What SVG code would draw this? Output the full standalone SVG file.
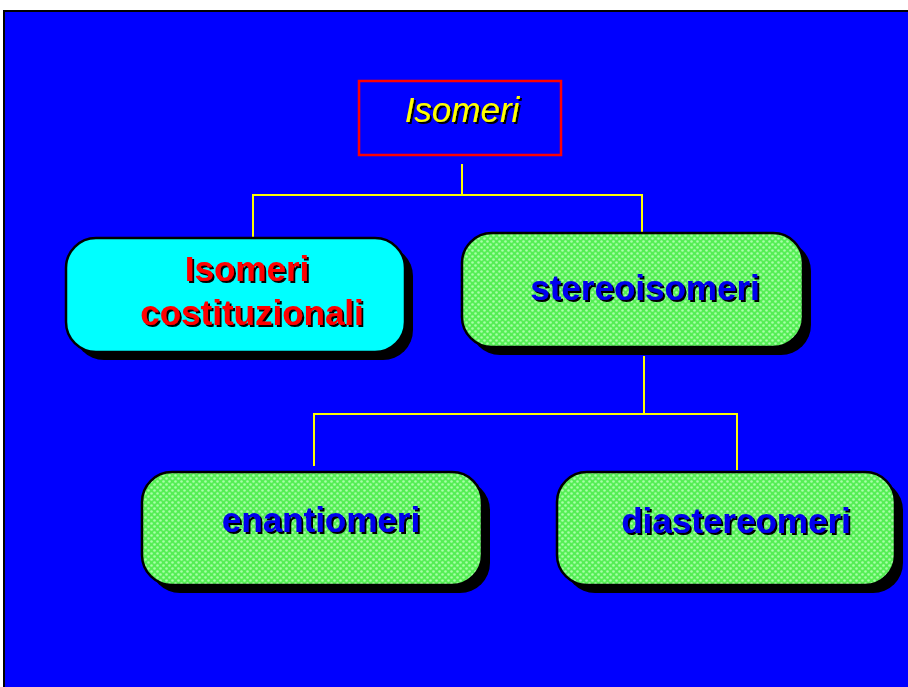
<svg xmlns="http://www.w3.org/2000/svg" width="908" height="687" viewBox="0 0 908 687">
  <defs>
    <pattern id="dots" width="6" height="6" patternUnits="userSpaceOnUse">
      <rect width="6" height="6" fill="#55ee55"/>
      <circle cx="1.5" cy="1.5" r="1.3" fill="#a8ffa8"/>
      <circle cx="4.5" cy="4.5" r="1.3" fill="#a8ffa8"/>
    </pattern>
    <filter id="ts" x="-10%" y="-20%" width="130%" height="150%">
      <feDropShadow dx="2" dy="2" stdDeviation="0" flood-color="#000" flood-opacity="1"/>
    </filter>
  </defs>
  <style>
    .shadow { fill: #000; }
    .box { stroke: #000; stroke-width: 2.5; }
    .green { fill: url(#dots); }
    .lbl { font-family: "Liberation Sans", Arial, sans-serif; font-size: 35px; font-weight: bold; text-anchor: middle; filter: url(#ts); }
    .conn { stroke: #ffff00; stroke-width: 2; fill: none; }
  </style>
  <rect x="0" y="0" width="908" height="687" fill="#ffffff"/>
  <rect x="4" y="11" width="920" height="700" fill="#0000ff" stroke="#000" stroke-width="2"/>

  <g id="connectors">
    <path class="conn" d="M462 164 V195 M253 238 V195 H642 V234"/>
    <path class="conn" d="M644 356 V414 M314 466 V414 H737 V470"/>
  </g>

  <g id="isomeri">
    <rect x="359" y="81" width="202" height="74" fill="#0000ff" stroke="#ff0000" stroke-width="2.5"/>
    <text x="462" y="122" font-family="Liberation Sans, Arial, sans-serif" font-size="35" font-style="italic" fill="#ffff00" text-anchor="middle" filter="url(#ts)">Isomeri</text>
  </g>

  <g id="costituzionali">
    <rect class="shadow" x="74" y="246" width="339" height="114" rx="30"/>
    <rect class="box" x="66" y="238" width="339" height="114" rx="30" fill="#00ffff"/>
    <text class="lbl" fill="#ff0000"><tspan x="247" y="281">Isomeri</tspan><tspan x="252" y="325">costituzionali</tspan></text>
  </g>

  <g id="stereoisomeri">
    <rect class="shadow" x="470" y="241" width="341" height="114" rx="30"/>
    <rect class="box green" x="462" y="233" width="341" height="114" rx="30"/>
    <text class="lbl" x="645" y="300" fill="#0000ee">stereoisomeri</text>
  </g>

  <g id="enantiomeri">
    <rect class="shadow" x="150" y="480" width="340" height="113" rx="30"/>
    <rect class="box green" x="142" y="472" width="340" height="113" rx="30"/>
    <text class="lbl" x="321" y="532" fill="#0000ee">enantiomeri</text>
  </g>

  <g id="diastereomeri">
    <rect class="shadow" x="565" y="480" width="338" height="113" rx="30"/>
    <rect class="box green" x="557" y="472" width="338" height="113" rx="30"/>
    <text class="lbl" x="736" y="533" fill="#0000ee">diastereomeri</text>
  </g>
</svg>
